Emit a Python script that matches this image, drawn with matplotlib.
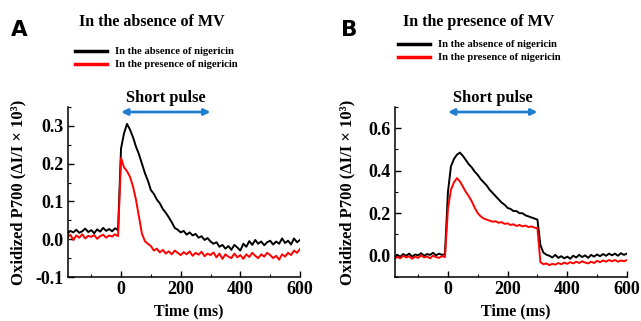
import numpy as np
import matplotlib
matplotlib.use("Agg")
import matplotlib.pyplot as plt
from matplotlib.ticker import MultipleLocator

# Time axis (ms), 10 ms sampling
time_ms = np.arange(-180, 601, 10)

# Panel A: in the absence of MV
blk_a = [0.015, 0.022, 0.018, 0.025, 0.017, 0.021, 0.028, 0.019, 0.024, 0.016, 0.026, 0.020, 0.030, 0.022, 0.027, 0.021, 0.029, 0.024,
         0.240, 0.280, 0.305, 0.290, 0.270, 0.245, 0.225, 0.200, 0.175, 0.155,
         0.130, 0.120, 0.105, 0.095, 0.080, 0.070, 0.058, 0.045, 0.030, 0.025,
         0.018, 0.022, 0.012, 0.018, 0.010, 0.014, 0.004, 0.008, -0.002, 0.003,
         -0.006, -0.012, -0.008, -0.020, -0.015, -0.025, -0.018, -0.028, -0.015, -0.022,
         -0.030, -0.012, -0.020, -0.005, -0.015, -0.002, -0.012, -0.006, -0.016, -0.008,
         -0.004, -0.014, -0.006, -0.012, 0.002, -0.010, -0.004, -0.014, 0.002, -0.008,
         -0.002]
red_a = [0.005, 0.012, -0.002, 0.010, 0.004, 0.013, 0.002, 0.009, 0.006, 0.011, 0.001, 0.008, 0.012, 0.004, 0.010, 0.007, 0.013, 0.008,
         0.215, 0.190, 0.180, 0.165, 0.140, 0.105, 0.060, 0.015, -0.005, -0.012,
         -0.018, -0.030, -0.025, -0.035, -0.028, -0.038, -0.032, -0.040, -0.030, -0.036,
         -0.042, -0.034, -0.040, -0.032, -0.044, -0.036, -0.041, -0.033, -0.045, -0.038,
         -0.042, -0.035, -0.048, -0.038, -0.052, -0.040, -0.046, -0.050, -0.038, -0.048,
         -0.042, -0.052, -0.040, -0.047, -0.036, -0.044, -0.050, -0.040, -0.046, -0.036,
         -0.042, -0.050, -0.044, -0.054, -0.040, -0.046, -0.036, -0.042, -0.030, -0.036,
         -0.026]

# Panel B: in the presence of MV
blk_b = [-0.010, 0.005, -0.005, 0.008, 0.000, 0.010, -0.004, 0.006, 0.002, 0.012, 0.000, 0.008, 0.004, 0.014, 0.002, 0.010, 0.004, 0.008,
         0.300, 0.420, 0.455, 0.475, 0.485, 0.470, 0.450, 0.430, 0.415, 0.395,
         0.380, 0.360, 0.345, 0.330, 0.310, 0.295, 0.280, 0.265, 0.250, 0.240,
         0.225, 0.220, 0.210, 0.210, 0.200, 0.200, 0.190, 0.185, 0.180, 0.175,
         0.170, 0.050, 0.015, 0.005, 0.000, -0.008, 0.004, -0.010, -0.002, -0.012,
         -0.004, -0.014, 0.000, -0.008, 0.004, -0.006, 0.002, -0.010, 0.004, -0.004,
         0.006, -0.002, 0.008, 0.000, 0.010, 0.002, 0.010, 0.000, 0.012, 0.004,
         0.010]
red_b = [-0.015, -0.005, -0.012, 0.000, -0.008, -0.002, -0.014, -0.004, -0.010, 0.002, -0.008, -0.003, -0.012, 0.000, -0.006, -0.010, -0.002, -0.006,
         0.220, 0.310, 0.345, 0.365, 0.350, 0.325, 0.300, 0.280, 0.255, 0.225,
         0.200, 0.185, 0.175, 0.170, 0.165, 0.160, 0.162, 0.155, 0.158, 0.150,
         0.152, 0.145, 0.148, 0.140, 0.145, 0.138, 0.142, 0.135, 0.138, 0.132,
         0.130, -0.030, -0.040, -0.036, -0.044, -0.038, -0.042, -0.034, -0.040, -0.032,
         -0.038, -0.030, -0.036, -0.028, -0.034, -0.026, -0.032, -0.036, -0.028, -0.034,
         -0.024, -0.030, -0.022, -0.028, -0.020, -0.026, -0.020, -0.028, -0.022, -0.026,
         -0.020]

pulse = (0, 300)
serif = "Liberation Serif"
blue = "#1f7fcf"

fig = plt.figure(figsize=(6.41, 3.21), dpi=100)

panels = [
    dict(rect=[0.106, 0.137, 0.362, 0.530], blk=blk_a, red=red_a, ylim=(-0.1, 0.35),
         major=0.1, minor=0.05, letter="A", lx=0.030, title="In the absence of MV",
         tx=0.236, legx=0.117, legy=(0.840, 0.800), ylx=-0.18),
    dict(rect=[0.616, 0.137, 0.362, 0.530], blk=blk_b, red=red_b, ylim=(-0.1, 0.70),
         major=0.2, minor=0.1, letter="B", lx=0.545, title="In the presence of MV",
         tx=0.746, legx=0.621, legy=(0.862, 0.822), ylx=-0.168),
]

for p in panels:
    ax = fig.add_axes(p["rect"])
    ax.plot(time_ms, p["blk"], color="black", lw=1.4)
    ax.plot(time_ms, p["red"], color="#ff0000", lw=1.4)
    ax.set_xlim(-178, 600)
    ax.set_ylim(*p["ylim"])
    ax.set_xticks([0, 200, 400, 600])
    ax.xaxis.set_minor_locator(MultipleLocator(100))
    ax.yaxis.set_major_locator(MultipleLocator(p["major"]))
    ax.yaxis.set_minor_locator(MultipleLocator(p["minor"]))
    ticks = [t for t in ax.get_yticks() if p["ylim"][0] - 1e-9 <= t <= p["ylim"][1] + 1e-9]
    ax.set_yticks(ticks)
    ax.set_yticklabels(["%.1f" % t for t in ticks])
    for s in ["top", "right"]:
        ax.spines[s].set_visible(False)
    for s in ["left", "bottom"]:
        ax.spines[s].set_linewidth(1.1)
    ax.tick_params(which="major", direction="in", length=4, width=1.0, pad=3)
    ax.tick_params(which="minor", direction="in", length=2.5, width=0.8)
    for lab in ax.get_xticklabels() + ax.get_yticklabels():
        lab.set_fontfamily(serif)
        lab.set_fontweight("bold")
        lab.set_fontsize(13)
    ax.set_xlabel("Time (ms)", fontfamily=serif, fontweight="bold", fontsize=11.5)
    ax.xaxis.set_label_coords(0.52, -0.155)
    ax.set_ylabel("Oxidized P700 (ΔI/I × 10³)", fontfamily=serif, fontweight="bold",
                  fontsize=12)
    ax.yaxis.set_label_coords(p["ylx"], 0.5)

    # short pulse arrow near the top of the axes
    ax.annotate("", xy=(pulse[1], 0.97), xytext=(pulse[0], 0.97),
                xycoords=("data", "axes fraction"), textcoords=("data", "axes fraction"),
                arrowprops=dict(arrowstyle="<|-|>", color=blue, lw=2, mutation_scale=9,
                                shrinkA=0, shrinkB=0), annotation_clip=False)
    ax.text(sum(pulse) / 2, 1.005, "Short pulse", transform=ax.get_xaxis_transform(),
            ha="center", va="bottom", fontfamily=serif, fontweight="bold", fontsize=11.8)

    # panel letter, title and legend
    fig.text(p["lx"], 0.905, p["letter"], fontfamily="DejaVu Sans", fontweight="bold",
             fontsize=15.5, ha="center", va="center")
    fig.text(p["tx"], 0.93, p["title"], fontfamily=serif, fontweight="bold",
             fontsize=11.5, ha="center", va="center")
    for y, col, txt in zip(p["legy"], ["black", "#ff0000"],
                           ["In the absence of nigericin", "In the presence of nigericin"]):
        fig.add_artist(plt.Line2D([p["legx"], p["legx"] + 0.05], [y, y], color=col, lw=2.5))
        fig.text(p["legx"] + 0.062, y, txt, fontfamily=serif, fontweight="bold",
                 fontsize=7.7, ha="left", va="center")

fig.savefig("out.png", dpi=100)
